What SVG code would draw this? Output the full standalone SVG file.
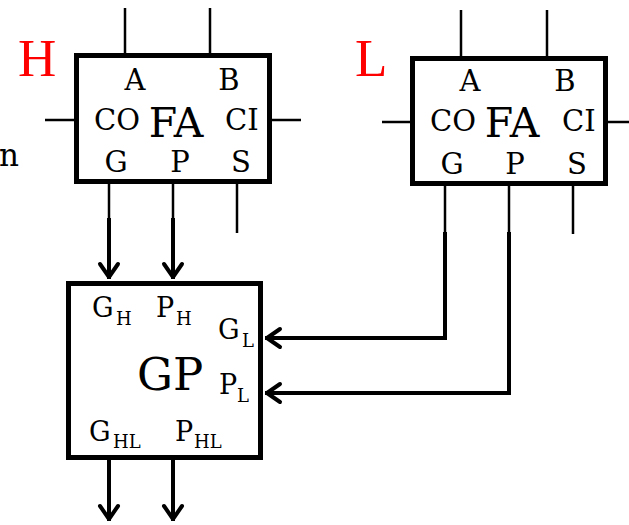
<svg xmlns="http://www.w3.org/2000/svg" width="629" height="525" viewBox="0 0 629 525">
<style>
  .box { fill: #fff; stroke: #000; stroke-width: 5; }
  .pin { stroke: #000; stroke-width: 2.5; fill: none; }
  .wire { stroke: #000; stroke-width: 4; fill: none; marker-end: url(#arr); }
  text { font-family: "DejaVu Serif", "Liberation Serif", serif; fill: #000; }
  .lbl { font-size: 29px; }
  .big { font-size: 41px; }
  .sm { font-size: 27px; }
  .sub { font-size: 18px; }
  .red { font-family: "Liberation Serif", "DejaVu Serif", serif; font-size: 53px; fill: #ff0000; }
</style>
<defs>
  <marker id="arr" markerUnits="userSpaceOnUse" markerWidth="30" markerHeight="30" viewBox="-20 -15 30 30" refX="2" refY="0" orient="auto">
    <path d="M -13 -9 L 0 0 L -13 9" fill="none" stroke="#000" stroke-width="4" stroke-linecap="round" stroke-linejoin="round"/>
  </marker>
</defs>

<text id="cut-n" x="19" y="166" style="font-size:31px" text-anchor="end">n</text>

<g id="label-H"><text x="18" y="76" class="red">H</text></g>
<g id="label-L"><text x="355" y="76" class="red">L</text></g>

<g id="fa-h">
  <line class="pin" x1="125" y1="8" x2="125" y2="54"/>
  <line class="pin" x1="210" y1="8" x2="210" y2="54"/>
  <line class="pin" x1="45" y1="120" x2="75" y2="120"/>
  <line class="pin" x1="271" y1="120" x2="301" y2="120"/>
  <line class="pin" x1="109" y1="183" x2="109" y2="219"/>
  <line class="pin" x1="173" y1="183" x2="173" y2="219"/>
  <line class="pin" x1="237" y1="183" x2="237" y2="233"/>
  <rect class="box" x="76.5" y="55.5" width="193" height="126"/>
  <text x="135" y="90" class="lbl" text-anchor="middle">A</text>
  <text x="229" y="90" class="lbl" text-anchor="middle">B</text>
  <text x="94" y="130" class="lbl">CO</text>
  <text x="176" y="137" class="big" text-anchor="middle">FA</text>
  <text x="225" y="130" class="lbl">CI</text>
  <text x="116" y="172" class="lbl" text-anchor="middle">G</text>
  <text x="180" y="172" class="lbl" text-anchor="middle">P</text>
  <text x="241" y="172" class="lbl" text-anchor="middle">S</text>
</g>

<g id="fa-l">
  <line class="pin" x1="461" y1="10" x2="461" y2="57"/>
  <line class="pin" x1="547" y1="10" x2="547" y2="57"/>
  <line class="pin" x1="382" y1="122" x2="411" y2="122"/>
  <line class="pin" x1="607" y1="122" x2="629" y2="122"/>
  <line class="pin" x1="445" y1="185" x2="445" y2="233"/>
  <line class="pin" x1="509" y1="185" x2="509" y2="233"/>
  <line class="pin" x1="573" y1="185" x2="573" y2="234"/>
  <rect class="box" x="412.5" y="58.5" width="193" height="125"/>
  <text x="470" y="91" class="lbl" text-anchor="middle">A</text>
  <text x="565" y="91" class="lbl" text-anchor="middle">B</text>
  <text x="430" y="131" class="lbl">CO</text>
  <text x="512" y="137" class="big" text-anchor="middle">FA</text>
  <text x="562" y="131" class="lbl">CI</text>
  <text x="452" y="174" class="lbl" text-anchor="middle">G</text>
  <text x="515" y="174" class="lbl" text-anchor="middle">P</text>
  <text x="577" y="174" class="lbl" text-anchor="middle">S</text>
</g>

<g id="gp">
  <rect class="box" x="68.5" y="283.5" width="192" height="174"/>
  <text class="sm" x="92" y="317">G<tspan class="sub" x="116" y="325">H</tspan></text>
  <text class="sm" x="156" y="317">P<tspan class="sub" x="176" y="325">H</tspan></text>
  <text class="sm" x="218" y="339">G<tspan class="sub" x="242" y="347">L</tspan></text>
  <text x="137" y="390" style="font-size:45px">GP</text>
  <text class="sm" x="219" y="394">P<tspan class="sub" x="237" y="402">L</tspan></text>
  <text class="sm" x="89" y="441">G<tspan class="sub" x="113" y="448">HL</tspan></text>
  <text class="sm" x="175" y="441">P<tspan class="sub" x="194" y="448">HL</tspan></text>
</g>

<g id="connectors">
  <path class="wire" d="M109 218 V279"/>
  <path class="wire" d="M173 218 V279"/>
  <path class="wire" d="M445 232 V338 H265"/>
  <path class="wire" d="M509 232 V393 H265"/>
  <path class="wire" d="M109 460 V521"/>
  <path class="wire" d="M173 460 V521"/>
</g>
</svg>
